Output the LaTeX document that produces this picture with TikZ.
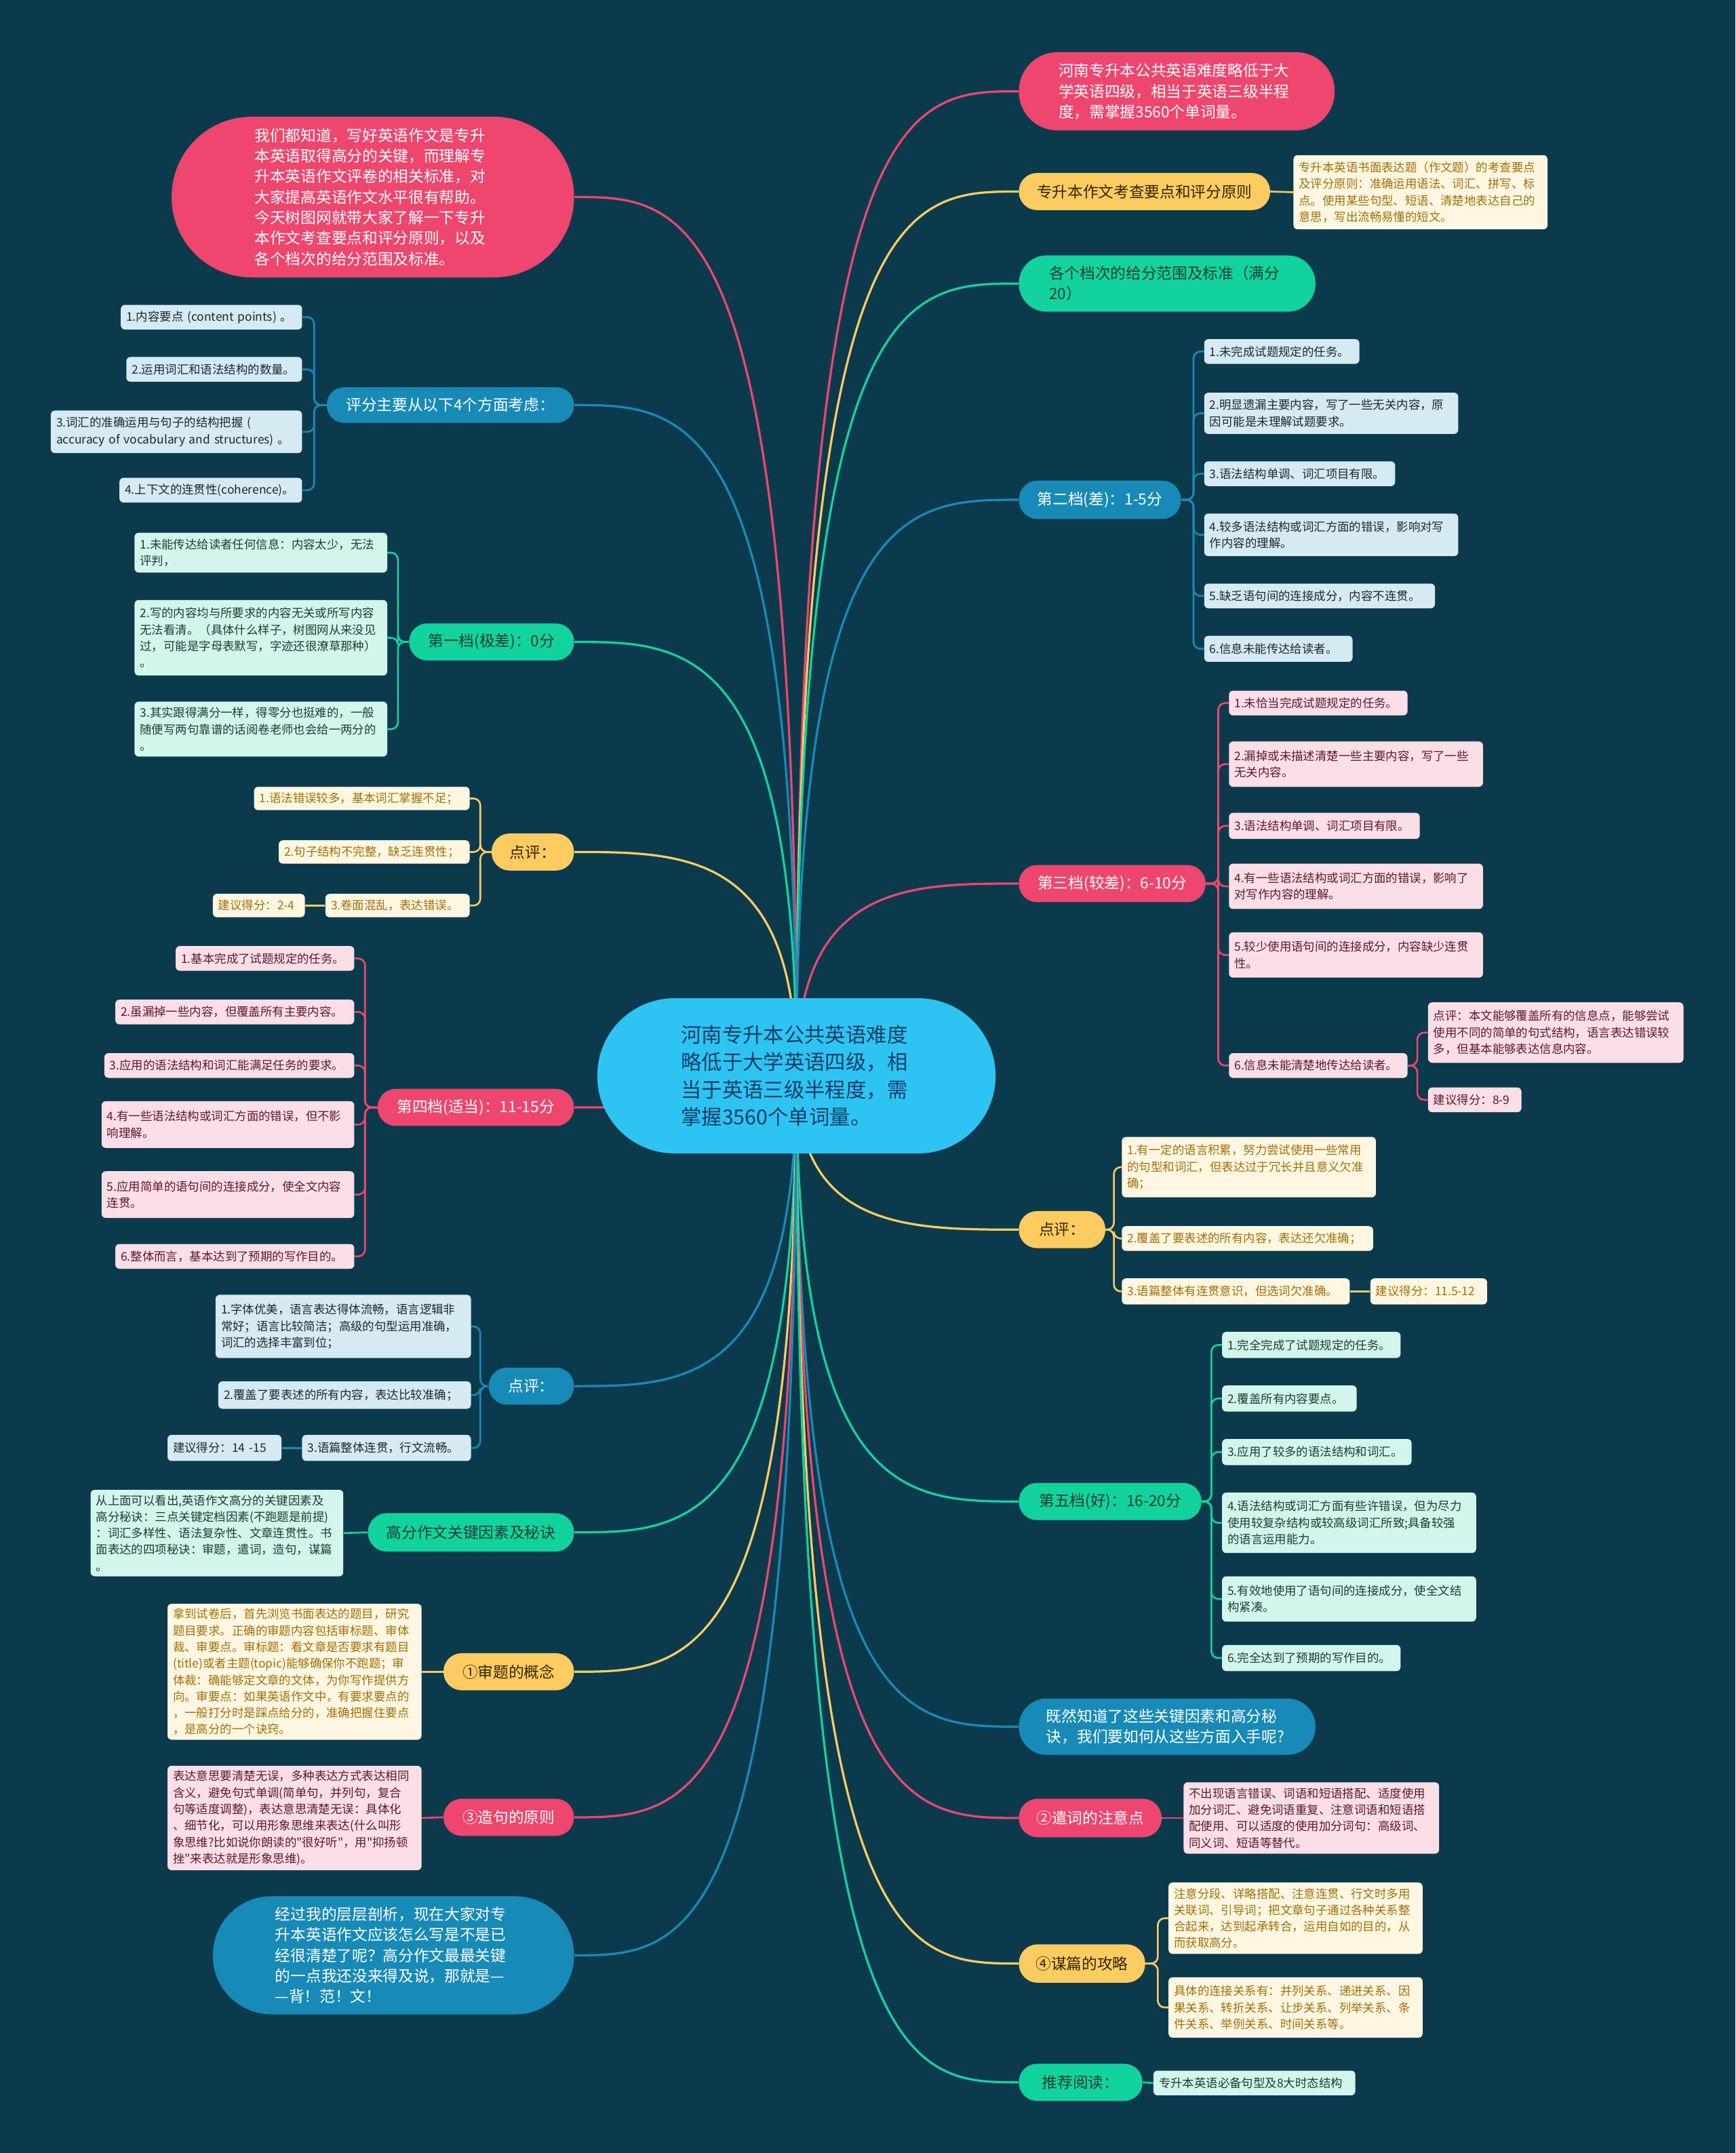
\documentclass[tikz,border=0pt]{standalone}
\usepackage{fontspec}
\setmainfont{Noto Sans CJK SC}[Ligatures=TeXOff]
\usetikzlibrary{backgrounds,calc}
\definecolor{bg}{RGB}{12,58,77}
\definecolor{cPink}{RGB}{238,70,110}
\definecolor{cPinkL}{RGB}{252,222,230}
\definecolor{cPinkT}{RGB}{90,25,45}
\definecolor{cYel}{RGB}{252,204,96}
\definecolor{cYelL}{RGB}{255,247,225}
\definecolor{cYelT}{RGB}{160,110,10}
\definecolor{cYelD}{RGB}{50,38,10}
\definecolor{cGrn}{RGB}{18,211,158}
\definecolor{cGrnL}{RGB}{210,246,236}
\definecolor{cGrnT}{RGB}{30,60,50}
\definecolor{cBlu}{RGB}{24,138,183}
\definecolor{cBluL}{RGB}{213,234,242}
\definecolor{cBluT}{RGB}{30,40,48}
\definecolor{cCtr}{RGB}{45,196,243}
\definecolor{cCtrT}{RGB}{22,62,100}
\newcommand\mmPill[7]{%
 \pgfmathsetmacro\bxW{#5-#3}\pgfmathsetmacro\bxH{#6-#4}%
 \pgfmathsetmacro\bxX{(#3+#5)/2}\pgfmathsetmacro\bxY{(#4+#6)/2}%
 \pgfmathsetmacro\bxR{#6/2-#4/2-0.3}%
 \node[#2, minimum width=\bxW pt, minimum height=\bxH pt, rounded corners=\bxR pt] (#1) at (\bxX,\bxY) {#7};}
\newcommand\mmMPill[8]{%
 \pgfmathsetmacro\bxW{#5-#3}\pgfmathsetmacro\bxH{#6-#4}%
 \pgfmathsetmacro\bxX{(#3+#5)/2}\pgfmathsetmacro\bxY{(#4+#6)/2}%
 \pgfmathsetmacro\bxR{#6/2-#4/2-0.3}%
 \node[#2, minimum width=\bxW pt, minimum height=\bxH pt, rounded corners=\bxR pt, text width=#7pt, align=left] (#1) at (\bxX,\bxY) {#8};}
\newcommand\mmLeaf[7]{%
 \pgfmathsetmacro\bxW{#5-#3}\pgfmathsetmacro\bxH{#6-#4}%
 \pgfmathsetmacro\bxX{(#3+#5)/2}\pgfmathsetmacro\bxY{(#4+#6)/2}%
 \pgfmathsetmacro\bxT{#5-#3-8}%
 \node[#2, minimum width=\bxW pt, minimum height=\bxH pt, text width=\bxT pt] (#1) at (\bxX,\bxY) {#7};}
\tikzset{
 pillbase/.style={inner sep=0pt, align=center, font=\fontsize{11.2}{15}\selectfont},
 leafbase/.style={inner xsep=4pt, inner ysep=1pt, align=left, rounded corners=3pt, font=\fontsize{8.6}{12}\selectfont},
 pk/.style={pillbase, fill=cPink, text=white},
 yl/.style={pillbase, fill=cYel, text=cYelD},
 gr/.style={pillbase, fill=cGrn, text=cGrnT},
 bl/.style={pillbase, fill=cBlu, text=white},
 ctrs/.style={inner sep=0pt, fill=cCtr, text=cCtrT, font=\fontsize{15}{20}\selectfont},
 lpk/.style={leafbase, fill=cPinkL, text=cPinkT},
 lyl/.style={leafbase, fill=cYelL, text=cYelT},
 lgr/.style={leafbase, fill=cGrnL, text=cGrnT},
 lbl/.style={leafbase, fill=cBluL, text=cBluT},
 mc/.style={line width=1.6pt, to path={let \p1=(\tikztostart), \p2=(\tikztotarget) in .. controls (\x1,\y2) and ({0.5*\x1+0.5*\x2},\y2) .. (\tikztotarget)}},
 sc/.style={line width=1.3pt, rounded corners=5pt}
}
\begin{document}
\begin{tikzpicture}[x=1pt,y=-1pt]
\useasboundingbox (0,0) rectangle (1264,1568);
% central
\mmMPill{C}{ctrs}{435}{727}{725}{840}{168}{河南专升本公共英语难度\\略低于大学英语四级，相\\当于英语三级半程度，需\\掌握3560个单词量。}
\coordinate (ctr) at (580,783);
% ---------- right side ----------
\mmMPill{R1}{pk}{742}{38}{972}{95}{172}{河南专升本公共英语难度略低于大\\学英语四级，相当于英语三级半程\\度，需掌握3560个单词量。}
\mmPill{R2}{yl}{742}{126}{925}{153}{专升本作文考查要点和评分原则}
\mmLeaf{R2d}{lyl}{942}{113}{1127}{167}{专升本英语书面表达题（作文题）的考查要点\\及评分原则：准确运用语法、词汇、拼写、标\\点。使用某些句型、短语、清楚地表达自己的\\意思，写出流畅易懂的短文。}
\mmMPill{R3}{gr}{742}{186}{958}{227}{172}{各个档次的给分范围及标准（满分\\20）}
\mmPill{R4}{bl}{742}{350}{860}{378}{第二档(差)：1-5分}
\mmLeaf{R4a}{lbl}{877}{247}{990}{265}{1.未完成试题规定的任务。}
\mmLeaf{R4b}{lbl}{877}{286}{1062}{316}{2.明显遗漏主要内容，写了一些无关内容，原\\因可能是未理解试题要求。}
\mmLeaf{R4c}{lbl}{877}{336}{1016}{354}{3.语法结构单调、词汇项目有限。}
\mmLeaf{R4d}{lbl}{877}{374}{1062}{405}{4.较多语法结构或词汇方面的错误，影响对写\\作内容的理解。}
\mmLeaf{R4e}{lbl}{877}{425}{1045}{443}{5.缺乏语句间的连接成分，内容不连贯。}
\mmLeaf{R4f}{lbl}{877}{463}{985}{482}{6.信息未能传达给读者。}
\mmPill{R5}{pk}{742}{630}{878}{657}{第三档(较差)：6-10分}
\mmLeaf{R5a}{lpk}{895}{503}{1025}{521}{1.未恰当完成试题规定的任务。}
\mmLeaf{R5b}{lpk}{895}{540}{1080}{573}{2.漏掉或未描述清楚一些主要内容，写了一些\\无关内容。}
\mmLeaf{R5c}{lpk}{895}{592}{1034}{611}{3.语法结构单调、词汇项目有限。}
\mmLeaf{R5d}{lpk}{895}{629}{1080}{662}{4.有一些语法结构或词汇方面的错误，影响了\\对写作内容的理解。}
\mmLeaf{R5e}{lpk}{895}{679}{1080}{712}{5.较少使用语句间的连接成分，内容缺少连贯\\性。}
\mmLeaf{R5f}{lpk}{895}{767}{1025}{785}{6.信息未能清楚地传达给读者。}
\mmLeaf{R5g}{lpk}{1040}{730}{1226}{774}{点评：本文能够覆盖所有的信息点，能够尝试\\使用不同的简单的句式结构，语言表达错误较\\多，但基本能够表达信息内容。}
\mmLeaf{R5h}{lpk}{1040}{792}{1108}{810}{建议得分：8-9}
\mmPill{R6}{yl}{742}{882}{805}{909}{点评：}
\mmLeaf{R6a}{lyl}{817}{828}{1002}{872}{1.有一定的语言积累，努力尝试使用一些常用\\的句型和词汇，但表达过于冗长并且意义欠准\\确；}
\mmLeaf{R6b}{lyl}{817}{893}{1000}{911}{2.覆盖了要表述的所有内容，表达还欠准确；}
\mmLeaf{R6c}{lyl}{817}{931}{983}{950}{3.语篇整体有连贯意识，但选词欠准确。}
\mmLeaf{R6d}{lyl}{998}{931}{1083}{950}{建议得分：11.5-12}
\mmPill{R7}{gr}{742}{1080}{875}{1107}{第五档(好)：16-20分}
\mmLeaf{R7a}{lgr}{890}{970}{1020}{989}{1.完全完成了试题规定的任务。}
\mmLeaf{R7b}{lgr}{890}{1009}{988}{1028}{2.覆盖所有内容要点。}
\mmLeaf{R7c}{lgr}{890}{1048}{1028}{1067}{3.应用了较多的语法结构和词汇。}
\mmLeaf{R7d}{lgr}{890}{1087}{1075}{1131}{4.语法结构或词汇方面有些许错误，但为尽力\\使用较复杂结构或较高级词汇所致;具备较强\\的语言运用能力。}
\mmLeaf{R7e}{lgr}{890}{1148}{1075}{1181}{5.有效地使用了语句间的连接成分，使全文结\\构紧凑。}
\mmLeaf{R7f}{lgr}{890}{1198}{1020}{1217}{6.完全达到了预期的写作目的。}
\mmMPill{R8}{bl}{742}{1237}{958}{1278}{176}{既然知道了这些关键因素和高分秘\\诀，我们要如何从这些方面入手呢?}
\mmPill{R9}{pk}{742}{1310}{846}{1338}{②遣词的注意点}
\mmLeaf{R9a}{lpk}{862}{1298}{1048}{1350}{不出现语言错误、词语和短语搭配、适度使用\\加分词汇、避免词语重复、注意词语和短语搭\\配使用、可以适度的使用加分词句：高级词、\\同义词、短语等替代。}
\mmPill{R10}{yl}{742}{1416}{834}{1444}{④谋篇的攻略}
\mmLeaf{R10a}{lyl}{851}{1371}{1036}{1423}{注意分段、详略搭配、注意连贯、行文时多用\\关联词、引导词；把文章句子通过各种关系整\\合起来，达到起承转合，运用自如的目的，从\\而获取高分。}
\mmLeaf{R10b}{lyl}{851}{1440}{1036}{1484}{具体的连接关系有：并列关系、递进关系、因\\果关系、转折关系、让步关系、列举关系、条\\件关系、举例关系、时间关系等。}
\mmPill{R11}{gr}{742}{1503}{832}{1530}{推荐阅读：}
\mmLeaf{R11a}{lgr}{840}{1508}{987}{1526}{专升本英语必备句型及8大时态结构}
% ---------- left side ----------
\mmMPill{L1}{pk}{125}{85}{418}{202}{172}{我们都知道，写好英语作文是专升\\本英语取得高分的关键，而理解专\\升本英语作文评卷的相关标准，对\\大家提高英语作文水平很有帮助。\\今天树图网就带大家了解一下专升\\本作文考查要点和评分原则，以及\\各个档次的给分范围及标准。}
\mmPill{L2}{bl}{238}{282}{418}{308}{评分主要从以下4个方面考虑：}
\mmLeaf{L2a}{lbl}{88}{222}{220}{240}{1.内容要点 (content points) 。}
\mmLeaf{L2b}{lbl}{92}{260}{220}{278}{2.运用词汇和语法结构的数量。}
\mmLeaf{L2c}{lbl}{37}{299}{220}{330}{3.词汇的准确运用与句子的结构把握 (\\accuracy of vocabulary and structures) 。}
\mmLeaf{L2d}{lbl}{87}{348}{220}{366}{4.上下文的连贯性(coherence)。}
\mmPill{L3}{gr}{298}{454}{418}{481}{第一档(极差)：0分}
\mmLeaf{L3a}{lgr}{98}{388}{282}{417}{1.未能传达给读者任何信息：内容太少，无法\\评判，}
\mmLeaf{L3b}{lgr}{98}{437}{282}{492}{2.写的内容均与所要求的内容无关或所写内容\\无法看清。（具体什么样子，树图网从来没见\\过，可能是字母表默写，字迹还很潦草那种）\\。}
\mmLeaf{L3c}{lgr}{98}{511}{282}{551}{3.其实跟得满分一样，得零分也挺难的，一般\\随便写两句靠谱的话阅卷老师也会给一两分的\\。}
\mmPill{L4}{yl}{358}{607}{418}{634}{点评：}
\mmLeaf{L4a}{lyl}{185}{573}{342}{590}{1.语法错误较多，基本词汇掌握不足；}
\mmLeaf{L4b}{lyl}{203}{612}{342}{629}{2.句子结构不完整，缺乏连贯性；}
\mmLeaf{L4c}{lyl}{237}{651}{342}{668}{3.卷面混乱，表达错误。}
\mmLeaf{L4d}{lyl}{155}{651}{222}{668}{建议得分：2-4}
\mmPill{L5}{pk}{275}{793}{418}{820}{第四档(适当)：11-15分}
\mmLeaf{L5a}{lpk}{128}{689}{258}{707}{1.基本完成了试题规定的任务。}
\mmLeaf{L5b}{lpk}{84}{728}{258}{746}{2.虽漏掉一些内容，但覆盖所有主要内容。}
\mmLeaf{L5c}{lpk}{76}{767}{258}{785}{3.应用的语法结构和词汇能满足任务的要求。}
\mmLeaf{L5d}{lpk}{74}{802}{258}{836}{4.有一些语法结构或词汇方面的错误，但不影\\响理解。}
\mmLeaf{L5e}{lpk}{74}{853}{258}{887}{5.应用简单的语句间的连接成分，使全文内容\\连贯。}
\mmLeaf{L5f}{lpk}{84}{906}{258}{924}{6.整体而言，基本达到了预期的写作目的。}
\mmPill{L6}{bl}{356}{996}{418}{1023}{点评：}
\mmLeaf{L6a}{lbl}{157}{943}{343}{989}{1.字体优美，语言表达得体流畅，语言逻辑非\\常好；语言比较简洁；高级的句型运用准确，\\词汇的选择丰富到位；}
\mmLeaf{L6b}{lbl}{159}{1006}{343}{1026}{2.覆盖了要表述的所有内容，表达比较准确；}
\mmLeaf{L6c}{lbl}{220}{1045}{343}{1064}{3.语篇整体连贯，行文流畅。}
\mmLeaf{L6d}{lbl}{122}{1045}{205}{1064}{建议得分：14 -15}
\mmPill{L7}{gr}{268}{1102}{418}{1130}{高分作文关键因素及秘诀}
\mmLeaf{L7a}{lgr}{66}{1085}{250}{1148}{从上面可以看出,英语作文高分的关键因素及\\高分秘诀：三点关键定档因素(不跑题是前提)\\：词汇多样性、语法复杂性、文章连贯性。书\\面表达的四项秘诀：审题，遣词，造句，谋篇\\。}
\mmPill{L8}{yl}{323}{1204}{418}{1231}{①审题的概念}
\mmLeaf{L8a}{lyl}{122}{1168}{307}{1267}{拿到试卷后，首先浏览书面表达的题目，研究\\题目要求。正确的审题内容包括审标题、审体\\裁、审要点。审标题：看文章是否要求有题目\\(title)或者主题(topic)能够确保你不跑题；审\\体裁：确能够定文章的文体，为你写作提供方\\向。审要点：如果英语作文中，有要求要点的\\，一般打分时是踩点给分的，准确把握住要点\\，是高分的一个诀窍。}
\mmPill{L9}{pk}{323}{1310}{418}{1337}{③造句的原则}
\mmLeaf{L9a}{lpk}{122}{1286}{307}{1362}{表达意思要清楚无误，多种表达方式表达相同\\含义，避免句式单调(简单句，并列句，复合\\句等适度调整)，表达意思清楚无误：具体化\\、细节化，可以用形象思维来表达(什么叫形\\象思维?比如说你朗读的"很好听"，用"抑扬顿\\挫"来表达就是形象思维)。}
\mmMPill{L10}{bl}{155}{1381}{418}{1467}{172}{经过我的层层剖析，现在大家对专\\升本英语作文应该怎么写是不是已\\经很清楚了呢？高分作文最最关键\\的一点我还没来得及说，那就是—\\—背！范！文！}
% ---------- connectors ----------
\begin{pgfonlayer}{background}
\fill[bg] (0,0) rectangle (1264,1568);
% main curves
\draw[mc,cPink] (ctr) to (R1.west);
\draw[mc,cYel] (ctr) to (R2.west);
\draw[mc,cGrn] (ctr) to (R3.west);
\draw[mc,cBlu] (ctr) to (R4.west);
\draw[mc,cPink] (ctr) to (R5.west);
\draw[mc,cYel] (ctr) to (R6.west);
\draw[mc,cGrn] (ctr) to (R7.west);
\draw[mc,cBlu] (ctr) to (R8.west);
\draw[mc,cPink] (ctr) to (R9.west);
\draw[mc,cYel] (ctr) to (R10.west);
\draw[mc,cGrn] (ctr) to (R11.west);
\draw[mc,cPink] (ctr) to (L1.east);
\draw[mc,cBlu] (ctr) to (L2.east);
\draw[mc,cGrn] (ctr) to (L3.east);
\draw[mc,cYel] (ctr) to (L4.east);
\draw[mc,cPink] (ctr) to (L5.east);
\draw[mc,cBlu] (ctr) to (L6.east);
\draw[mc,cGrn] (ctr) to (L7.east);
\draw[mc,cYel] (ctr) to (L8.east);
\draw[mc,cPink] (ctr) to (L9.east);
\draw[mc,cBlu] (ctr) to (L10.east);
% sub connectors right
\draw[sc,cYel] (R2.east) -- (R2d.west);
\foreach \s in {a,b,c,d,e,f} {\draw[sc,cBlu] (R4.east) -- ++(9,0) |- (R4\s.west);}
\foreach \s in {a,b,c,d,e,f} {\draw[sc,cPink] (R5.east) -- ++(9,0) |- (R5\s.west);}
\foreach \s in {g,h} {\draw[sc,cPink] (R5f.east) -- ++(7,0) |- (R5\s.west);}
\foreach \s in {a,b,c} {\draw[sc,cYel] (R6.east) -- ++(6,0) |- (R6\s.west);}
\draw[sc,cYel] (R6c.east) -- (R6d.west);
\foreach \s in {a,b,c,d,e,f} {\draw[sc,cGrn] (R7.east) -- ++(7,0) |- (R7\s.west);}
\draw[sc,cPink] (R9.east) -- (R9a.west);
\foreach \s in {a,b} {\draw[sc,cYel] (R10.east) -- ++(9,0) |- (R10\s.west);}
\draw[sc,cGrn] (R11.east) -- (R11a.west);
% sub connectors left
\foreach \s in {a,b,c,d} {\draw[sc,cBlu] (L2.west) -- ++(-9,0) |- (L2\s.east);}
\foreach \s in {a,b,c} {\draw[sc,cGrn] (L3.west) -- ++(-8,0) |- (L3\s.east);}
\foreach \s in {a,b,c} {\draw[sc,cYel] (L4.west) -- ++(-8,0) |- (L4\s.east);}
\draw[sc,cYel] (L4c.west) -- (L4d.east);
\foreach \s in {a,b,c,d,e,f} {\draw[sc,cPink] (L5.west) -- ++(-9,0) |- (L5\s.east);}
\foreach \s in {a,b,c} {\draw[sc,cBlu] (L6.west) -- ++(-6,0) |- (L6\s.east);}
\draw[sc,cBlu] (L6c.west) -- (L6d.east);
\draw[sc,cGrn] (L7.west) -- (L7a.east);
\draw[sc,cYel] (L8.west) -- (L8a.east);
\draw[sc,cPink] (L9.west) -- (L9a.east);
\end{pgfonlayer}
\end{tikzpicture}
\end{document}
